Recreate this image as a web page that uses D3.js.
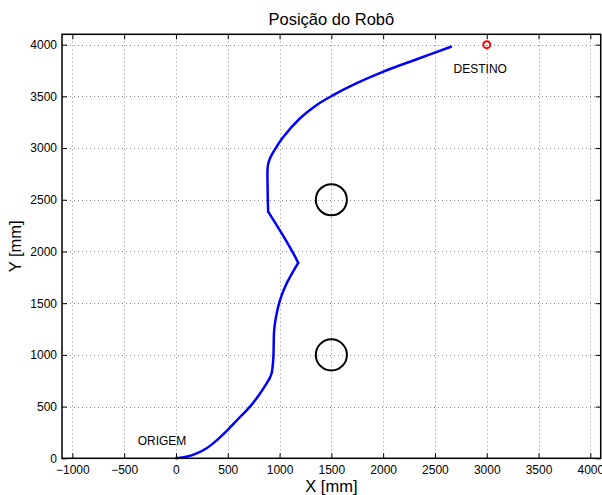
<!DOCTYPE html>
<html>
<head>
<meta charset="utf-8">
<script src="https://cdn.jsdelivr.net/npm/d3@7"></script>
<style>
  html, body { margin: 0; padding: 0; background: #fff; }
  svg { display: block; font-family: "Liberation Sans", Arial, Helvetica, sans-serif; }
</style>
</head>
<body>
<svg id="chart" width="602" height="495"></svg>
<script>
// ---- data ----
const title = "Posição do Robô";
const xLabel = "X [mm]";
const yLabel = "Y [mm]";
const xTicks = [-1000, -500, 0, 500, 1000, 1500, 2000, 2500, 3000, 3500, 4000];
const yTicks = [0, 500, 1000, 1500, 2000, 2500, 3000, 3500, 4000];
const xDomain = [-1100, 4100];
const yDomain = [0, 4100];

// robot path (mm)
const pathX = [0, 100, 200, 300, 400, 500, 600, 715, 800, 860, 905,
               925, 940, 948, 966, 1005, 1069, 1180,
               1150, 1060, 890,
               885, 887, 908, 957, 1030, 1198, 1359, 1504, 1745, 2002, 2324, 2655];
const pathY = [0, 15, 48, 100, 180, 275, 380, 500, 610, 700, 775,
               830, 970, 1240, 1369, 1531, 1692, 1890,
               1950, 2110, 2385,
               2600, 2830, 2901, 2990, 3100, 3288, 3417, 3504, 3627, 3739, 3859, 3980];
// indices of the sharp turns in the path
const cornerIdx = [10, 17, 20];

// obstacles (center x, center y, radius in mm)
const obstacleX = [1500, 1500];
const obstacleY = [2500, 1000];
const obstacleR = [150, 150];

// target
const targetX = [3000];
const targetY = [4000];

// annotations
const labelText = ["DESTINO", "ORIGEM"];
const labelX = [2680, -370];
const labelY = [3770, 170];

// ---- layout ----
const svg = d3.select("#chart");
const mLeft = 62, mRight = 600.7, mTop = 34.3, mBottom = 458.3;

const x = d3.scaleLinear().domain(xDomain).range([mLeft, mRight]);
const y = d3.scaleLinear().domain(yDomain).range([mBottom, mTop]);

const fmt = v => String(v).replace("-", "\u2212");

// grid
const grid = svg.append("g").attr("stroke", "#8a8a8a").attr("stroke-width", 1)
  .attr("stroke-dasharray", "1,3");
grid.selectAll("line.gx").data(xTicks).join("line").attr("class", "gx")
  .attr("x1", d => Math.round(x(d)) + 0.5).attr("x2", d => Math.round(x(d)) + 0.5)
  .attr("y1", mBottom).attr("y2", mTop);
grid.selectAll("line.gy").data(yTicks).join("line").attr("class", "gy")
  .attr("y1", d => Math.round(y(d)) + 0.5).attr("y2", d => Math.round(y(d)) + 0.5)
  .attr("x1", mLeft).attr("x2", mRight);

// obstacles
svg.append("g").selectAll("ellipse").data(obstacleX).join("ellipse")
  .attr("cx", (d, i) => x(d))
  .attr("cy", (d, i) => y(obstacleY[i]))
  .attr("rx", (d, i) => x(d + obstacleR[i]) - x(d))
  .attr("ry", (d, i) => y(obstacleY[i]) - y(obstacleY[i] + obstacleR[i]))
  .attr("fill", "none").attr("stroke", "#000").attr("stroke-width", 2);

// path, smooth between the sharp turns
const pts = pathX.map((d, i) => [d, pathY[i]]);
const bounds = [0, ...cornerIdx, pts.length - 1];
const segments = [];
for (let k = 0; k < bounds.length - 1; k++) segments.push(pts.slice(bounds[k], bounds[k + 1] + 1));
const line = d3.line().curve(d3.curveCatmullRom.alpha(0.5)).x(d => x(d[0])).y(d => y(d[1]));
svg.append("g").selectAll("path").data(segments).join("path")
  .attr("d", line)
  .attr("fill", "none").attr("stroke", "#0000ff").attr("stroke-width", 2.5)
  .attr("stroke-linejoin", "round").attr("stroke-linecap", "round");

// target
svg.append("g").selectAll("circle").data(targetX).join("circle")
  .attr("cx", d => x(d)).attr("cy", (d, i) => y(targetY[i])).attr("r", 3.5)
  .attr("fill", "none").attr("stroke", "#ff0000").attr("stroke-width", 2);

// annotations
svg.append("g").selectAll("text").data(labelText).join("text")
  .attr("x", (d, i) => x(labelX[i])).attr("y", (d, i) => y(labelY[i]))
  .attr("dy", "0.35em").attr("font-size", 12).attr("fill", "#000")
  .text(d => d);

// axes
const axB = d3.axisBottom(x).tickValues(xTicks).tickFormat(fmt).tickSizeInner(-5).tickSizeOuter(0).tickPadding(7);
const axT = d3.axisTop(x).tickValues(xTicks).tickFormat("").tickSizeInner(-5).tickSizeOuter(0);
const axL = d3.axisLeft(y).tickValues(yTicks).tickFormat(fmt).tickSizeInner(-5).tickSizeOuter(0).tickPadding(5);
const axR = d3.axisRight(y).tickValues(yTicks).tickFormat("").tickSizeInner(-5).tickSizeOuter(0);

function style(g) {
  g.selectAll(".domain").remove();
  g.selectAll(".tick line").attr("stroke", "#000").attr("stroke-width", 1);
  g.selectAll(".tick text").attr("fill", "#000").attr("font-size", 12)
    .attr("font-family", "Liberation Sans, Arial, sans-serif");
}
svg.append("g").attr("transform", `translate(0,${mBottom})`).call(axB).call(style);
svg.append("g").attr("transform", `translate(0,${mTop})`).call(axT).call(style);
svg.append("g").attr("transform", `translate(${mLeft},0)`).call(axL).call(style);
svg.append("g").attr("transform", `translate(${mRight},0)`).call(axR).call(style);

// box
svg.append("rect").attr("x", mLeft).attr("y", mTop)
  .attr("width", mRight - mLeft).attr("height", mBottom - mTop)
  .attr("fill", "none").attr("stroke", "#000").attr("stroke-width", 1.5);

// titles
svg.append("text").attr("x", (mLeft + mRight) / 2).attr("y", 25)
  .attr("text-anchor", "middle").attr("font-size", 16.5).text(title);
svg.append("text").attr("x", (mLeft + mRight) / 2).attr("y", 492)
  .attr("text-anchor", "middle").attr("font-size", 16.5).text(xLabel);
svg.append("text").attr("transform", `translate(21,${(mTop + mBottom) / 2}) rotate(-90)`)
  .attr("text-anchor", "middle").attr("font-size", 16.5).text(yLabel);
</script>
</body>
</html>
